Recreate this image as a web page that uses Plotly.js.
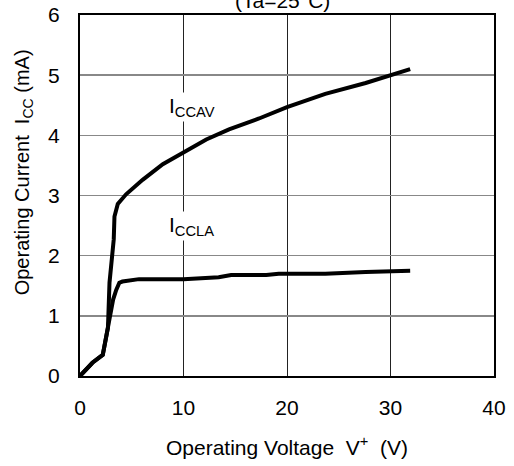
<!DOCTYPE html>
<html>
<head>
<meta charset="utf-8">
<script src="https://cdn.plot.ly/plotly-3.0.1.min.js"></script>
<style>html,body{margin:0;padding:0;background:#fff;}#chart{width:514px;height:466px;}</style>
</head>
<body>
<div id="chart"></div>
<script>
// ICCAV curve (upper)
const vAV = [0, 1.2, 2.2, 2.7, 2.85, 3.1, 3.26, 3.33, 3.65, 4.45, 5.74, 6.05, 8.0, 10, 12.2, 14.4, 17.3, 20, 23.7, 27.6, 30, 31.9];
const iAV = [0, 0.22, 0.35, 0.8, 1.55, 1.93, 2.27, 2.65, 2.86, 3.02, 3.21, 3.26, 3.52, 3.72, 3.93, 4.1, 4.28, 4.47, 4.69, 4.87, 5.0, 5.1];
// ICCLA curve (lower)
const vLA = [0, 1.2, 2.2, 2.5, 2.8, 3.2, 3.5, 3.8, 4.1, 5.7, 10, 11.5, 13.4, 14.6, 18, 19.2, 23.7, 27.6, 31.9];
const iLA = [0, 0.22, 0.35, 0.65, 0.93, 1.27, 1.43, 1.55, 1.57, 1.61, 1.61, 1.63, 1.64, 1.68, 1.68, 1.70, 1.70, 1.73, 1.75];

const xTicks = [0, 10, 20, 30, 40];
const yTicks = [0, 1, 2, 3, 4, 5, 6];
const labelAV = {text: "I<sub>CCAV</sub>", v: 10.8, i: 4.47};
const labelLA = {text: "I<sub>CCLA</sub>", v: 10.8, i: 2.5};
const titleText = "(Ta=25°C)";
const xTitle = "Operating Voltage  V<sup>+</sup>  (V)";
const yTitle = "Operating Current  I<sub>CC</sub> (mA)";

const font = "Liberation Sans, Arial, sans-serif";
const traces = [
  {x: vAV, y: iAV, mode: "lines", line: {color: "#000", width: 4}, hoverinfo: "skip"},
  {x: vLA, y: iLA, mode: "lines", line: {color: "#000", width: 4}, hoverinfo: "skip"}
];
const layout = {
  width: 514, height: 466,
  margin: {l: 80, r: 20, t: 15, b: 90},
  paper_bgcolor: "#fff", plot_bgcolor: "#fff",
  showlegend: false,
  font: {family: font, color: "#000", size: 21},
  xaxis: {
    range: [0, 40], tickvals: xTicks, ticktext: xTicks.map(String),
    showgrid: true, gridcolor: "#222", gridwidth: 1,
    showline: true, mirror: true, linecolor: "#000", linewidth: 2,
    zeroline: false, ticks: "", ticklabelstandoff: 12,
    tickfont: {size: 21, family: font},
    title: {text: xTitle, font: {size: 21, family: font}, standoff: 22}
  },
  yaxis: {
    range: [0, 6], tickvals: yTicks, ticktext: yTicks.map(String),
    showgrid: true, gridcolor: "#888", gridwidth: 1.5,
    showline: true, mirror: true, linecolor: "#000", linewidth: 2,
    zeroline: false, ticks: "", ticklabelstandoff: 14,
    tickfont: {size: 21, family: font}
  },
  annotations: [
    {x: labelAV.v, y: labelAV.i, xref: "x", yref: "y", text: labelAV.text, showarrow: false, bgcolor: "#fff", font: {size: 21, family: font}},
    {x: labelLA.v, y: labelLA.i, xref: "x", yref: "y", text: labelLA.text, showarrow: false, bgcolor: "#fff", font: {size: 21, family: font}},
    {x: 0.49, y: 1, xref: "paper", yref: "paper", yanchor: "bottom", yshift: 1, text: titleText, showarrow: false, font: {size: 21, family: font}},
    {x: -0.137, y: 0.565, xref: "paper", yref: "paper", xanchor: "center", yanchor: "middle", textangle: -90, text: yTitle, showarrow: false, font: {size: 20, family: font}}
  ]
};
Plotly.newPlot("chart", traces, layout, {staticPlot: true});
</script>
</body>
</html>
